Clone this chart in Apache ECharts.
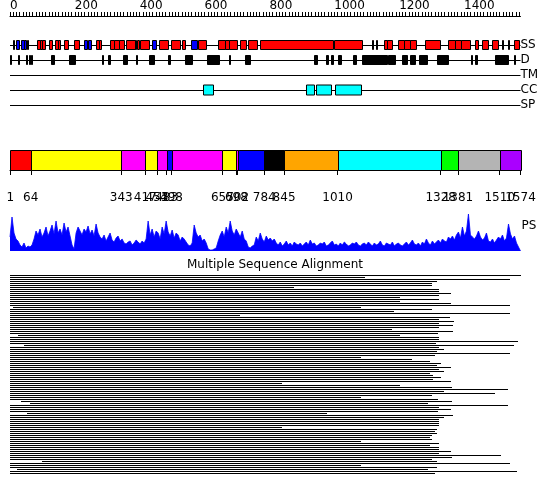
<!DOCTYPE html>
<html><head><meta charset="utf-8">
<script src="https://cdn.jsdelivr.net/npm/echarts@6/dist/echarts.min.js"></script>
<style>html,body{margin:0;padding:0;background:#fff}#c{width:550px;height:495px}</style>
</head><body><div id="c"></div>
<script>
// ---------------- data ----------------
const seqLength = 1574;
const rulerLabels = [0, 200, 400, 600, 800, 1000, 1200, 1400];
const trackNames = ['SS', 'D', 'TM', 'CC', 'SP'];

// secondary structure: helix (red) and strand (blue) ranges, residues
const ssHelix = [[8,10],[52,57],[82,91],[91,99],[99,108],[120,129],[140,148],[148,154],[166,179],[196,214],
  [265,273],[273,281],[308,320],[320,337],[337,351],[358,385],[386,390],[392,398],[401,428],[459,487],[496,524],
  [530,540],[580,604],[641,662],[662,675],[675,700],[709,728],[734,762],[771,996],[999,1085],[1115,1117],[1127,1129],
  [1153,1163],[1163,1178],[1196,1215],[1215,1233],[1233,1252],[1280,1326],[1350,1372],[1372,1390],[1390,1418],
  [1434,1442],[1454,1475],[1487,1504],[1516,1518],[1536,1538],[1555,1570]];
const ssStrand = [[17,28],[34,42],[43,49],[227,237],[240,250],[438,450],[558,577]];
// disorder (D)
const disorder = [[1,3],[24,27],[50,53],[58,62],[64,69],[125,137],[182,200],[283,288],[301,309],[349,361],[388,392],
  [429,443],[487,492],[540,560],[607,644],[674,679],[725,739],[937,946],[974,981],[990,997],[1010,1020],[1057,1067],
  [1084,1162],[1166,1187],[1208,1223],[1233,1249],[1261,1285],[1317,1351],[1421,1423],[1434,1440],[1495,1536],[1555,1556]];
// coiled coil (CC)
const coiledCoil = [[596,625],[914,936],[944,990],[1003,1081]];

// domain architecture
const domainBounds = [1, 64, 343, 417, 453, 483, 498, 655, 698, 702, 784, 845, 1010, 1328, 1381, 1510, 1574];
const domainColors = ['#ff0000','#ffff00','#ff00ff','#ffff00','#ff00ff','#0000ff','#ff00ff','#ffff00','#ff00ff',
  '#0000ff','#000000','#ffa500','#00ffff','#00ff00','#b4b4b4','#aa00ff'];

// PS profile (bins along the sequence)
const psValues = [14,34,18,12, 10,6,4,8,3,5,4,6,
  12,20,16,22,14,18,24,15,20,26,17,30,18,22,16,28,19,24,15, 6,2,
  18,24,20,16,22,19,25,17,21,15,27,18,14, 12,16,10,14,18,11,9,13,15,10,12,8,
  7,9,10,6,8,11,9,7,10,8,12, 30,
  16,22,14,20,18,12,24,17,30,19,15,21,13,18,16,10,14,12,9, 6,5,8,
  26,18,14,16,10,12,8, 2,1,1,2,3,
  10,16,20,14,24,18,30,20,16,22,18,14,20,12,10, 4,3,5,6,
  14,10,18,12,9,15,11,13,10,12,
  8,6,9,5,7,10,6,8,5,9,7,6,8,5,7,9,6,11,7,8,
  5,6,8,7,9,5,6,8,10,6,7,5,8,6,9,7,5,6,8,7,
  9,6,5,7,8,6,9,7,5,8,6,7,10,6,5,8,7,6,9,5,
  7,8,6,5,7,9,6,8,11,7,6,8,5,9,7,12,8,6,10,7,
  9,11,8,12,10,9,
  14,12,15,11,16,19,13,24,15,20,37,16,14,12,15,20,14,11,13,18,10,9,12,8,11,14,12,16,10,13,27,17,12,15,8,4, 0];

// multiple sequence alignment: aligned start / end of every sequence
const msaTitle = 'Multiple Sequence Alignment';
const msaEnd = [1574,1095,1541,1318,1302,1302,877,1324,1324,1361,1324,1203,1324,1203,1361,1541,1081,1302,1185,1541,
  709,1356,1324,1370,1324,1365,1324,1179,1365,1321,1203,1324,1324,1567,1313,1553,1324,1339,1318,1541,
  1310,1081,1240,1296,1330,1318,1361,1324,1339,1296,1305,1328,1305,1361,838,1203,1364,1536,1339,1496,
  1302,1081,1321,1364,1290,1536,1324,1361,1321,978,1367,1339,1324,1324,1324,1324,838,1318,1311,1318,
  1302,1296,1302,1081,1324,1296,1324,1324,1361,1324,1515,1364,1302,1318,1541,1081,1318,1290,1564,1311];
const msaStart = [1,1,1,1,1,1,1,1,1,1,1,1,1,1,1,1,10,1,1,1,
  1,1,1,1,1,1,1,1,1,1,26,1,1,1,1,44,1,1,1,1,
  1,1,1,1,1,1,1,1,1,1,1,1,1,1,1,1,1,1,1,1,
  1,1,1,34,62,1,1,1,1,51,1,1,1,1,1,1,1,1,1,1,
  1,1,1,1,1,1,1,1,1,1,1,1,1,100,1,1,1,21,1,1];

// ---------------- chart ----------------
const FONT = 'DejaVu Sans';
const chart = echarts.init(document.getElementById('c'), null, {renderer: 'canvas'});
const plain = v => String(v);

function boxRenderer(h, fill, stroke) {
  return function (params, api) {
    const s = api.value(0), e = api.value(1), y = api.value(2);
    const p0 = api.coord([s, y]), p1 = api.coord([e, y]);
    const x0 = Math.round(p0[0]) + 0.5, x1 = Math.max(Math.round(p1[0]) + 0.5, x0 + 1);
    const yc = Math.round(p0[1]);
    return {type: 'rect', shape: {x: x0, y: yc - h / 2 + 0.5, width: x1 - x0, height: h - 1},
      style: {fill: fill, stroke: stroke, lineWidth: stroke ? 1 : 0}};
  };
}

const rulerTicks = [];
for (let v = 0; v <= seqLength; v += 10) rulerTicks.push(v);

const L = 10, W = 510.5;
const xBase = {type: 'value', min: 0, max: seqLength, show: false};

const domainData = [];
for (let i = 0; i < domainColors.length; i++) domainData.push([domainBounds[i], domainBounds[i + 1], 0, domainColors[i]]);
const domainLabelsMain = domainBounds.slice(0, -1);
const domainLabelsEnd = domainBounds.slice(-1);

const msaData = [];
for (let i = 0; i < msaEnd.length; i++) msaData.push([msaStart[i], msaEnd[i], i]);

const domainLabelStyle = {formatter: plain, margin: 12, fontSize: 12, color: '#000', fontFamily: FONT,
  hideOverlap: false, showMinLabel: true, showMaxLabel: true};

const option = {
  backgroundColor: '#fff',
  animation: false,
  title: {text: msaTitle, left: 'center', top: 259, padding: 0,
    textStyle: {fontSize: 12, fontWeight: 'normal', fontFamily: FONT, color: '#000'}},
  grid: [
    {left: L, width: W, top: 15, height: 1},
    {left: L, width: W, top: 45, height: 60},
    {left: L, width: W, top: 150, height: 20},
    {left: L, width: W, top: 201, height: 50},
    {left: L, width: W, top: 274.5, height: 200}
  ],
  xAxis: [
    {gridIndex: 0, type: 'value', position: 'top', min: 0, max: seqLength,
      axisLine: {show: true, lineStyle: {color: '#000', width: 1}},
      axisTick: {show: true, customValues: rulerTicks, length: 4, lineStyle: {color: '#000', width: 1}},
      axisLabel: {customValues: rulerLabels, formatter: plain, align: 'left', margin: 3, fontSize: 12, color: '#000', fontFamily: FONT},
      splitLine: {show: false}},
    Object.assign({gridIndex: 1}, xBase),
    {gridIndex: 2, type: 'value', min: 0, max: seqLength, position: 'bottom', offset: 10,
      axisLine: {show: true, lineStyle: {color: '#000', width: 1}},
      axisTick: {show: true, customValues: domainBounds, length: 5, lineStyle: {color: '#000', width: 1}},
      axisLabel: Object.assign({customValues: domainLabelsMain}, domainLabelStyle),
      splitLine: {show: false}},
    {gridIndex: 3, type: 'category', data: psValues.map((v, i) => i), boundaryGap: false, show: false},
    Object.assign({gridIndex: 4}, xBase),
    {gridIndex: 2, type: 'value', min: 0, max: seqLength, position: 'bottom', offset: 10,
      axisLine: {show: false}, axisTick: {show: false}, splitLine: {show: false},
      axisLabel: Object.assign({customValues: domainLabelsEnd}, domainLabelStyle)}
  ],
  yAxis: [
    {gridIndex: 0, type: 'value', show: false},
    {gridIndex: 1, type: 'category', data: trackNames, inverse: true, boundaryGap: false, position: 'right',
      axisLine: {show: false}, axisTick: {show: false},
      axisLabel: {interval: 0, margin: 0, fontSize: 12, color: '#000', fontFamily: FONT},
      splitLine: {show: true, interval: 0, lineStyle: {color: '#000', width: 1}}},
    {gridIndex: 2, type: 'value', min: 0, max: 1, show: false},
    {gridIndex: 3, type: 'value', min: 0, max: 50, position: 'right',
      axisLine: {show: false}, axisTick: {show: false}, axisLabel: {show: false}, splitLine: {show: false},
      name: 'PS', nameLocation: 'middle', nameRotate: 0, nameGap: 1,
      nameTextStyle: {fontSize: 12, color: '#000', fontFamily: FONT, align: 'left', padding: [0, 0, 12, 0]}},
    {gridIndex: 4, type: 'category', data: msaEnd.map((v, i) => i), inverse: true, show: false}
  ],
  series: [
    {type: 'custom', xAxisIndex: 1, yAxisIndex: 1, clip: false, encode: {x: [0, 1], y: 2},
      data: ssHelix.map(d => [d[0], d[1], 0]), renderItem: boxRenderer(10, '#ff0000', '#000')},
    {type: 'custom', xAxisIndex: 1, yAxisIndex: 1, clip: false, encode: {x: [0, 1], y: 2},
      data: ssStrand.map(d => [d[0], d[1], 0]), renderItem: boxRenderer(10, '#0000ff', '#000')},
    {type: 'custom', xAxisIndex: 1, yAxisIndex: 1, clip: false, encode: {x: [0, 1], y: 2},
      data: disorder.map(d => [d[0], d[1], 1]), renderItem: boxRenderer(10, '#000', '#000')},
    {type: 'custom', xAxisIndex: 1, yAxisIndex: 1, clip: false, encode: {x: [0, 1], y: 2},
      data: coiledCoil.map(d => [d[0], d[1], 3]), renderItem: boxRenderer(11, '#00ffff', '#000')},
    {type: 'custom', xAxisIndex: 2, yAxisIndex: 2, clip: false, encode: {x: [0, 1]},
      data: domainData,
      renderItem: function (params, api) {
        const p0 = api.coord([api.value(0), 1]), p1 = api.coord([api.value(1), 0]);
        const x0 = Math.round(p0[0]) + 0.5, x1 = Math.round(p1[0]) + 0.5;
        return {type: 'rect', shape: {x: x0, y: Math.round(p0[1]) + 0.5, width: x1 - x0, height: Math.round(p1[1] - p0[1])},
          style: {fill: domainData[params.dataIndex][3], stroke: '#000', lineWidth: 1}};
      }},
    {type: 'line', xAxisIndex: 3, yAxisIndex: 3, data: psValues, symbol: 'none',
      lineStyle: {color: '#0000ff', width: 0.8}, areaStyle: {color: '#0000ff', opacity: 1}},
    {type: 'custom', xAxisIndex: 4, yAxisIndex: 4, clip: false, encode: {x: [0, 1], y: 2},
      data: msaData,
      renderItem: function (params, api) {
        const p0 = api.coord([api.value(0), api.value(2)]), p1 = api.coord([api.value(1), api.value(2)]);
        const y = Math.floor(p0[1]);
        return {type: 'rect', shape: {x: Math.round(p0[0]), y: y, width: Math.round(p1[0]) - Math.round(p0[0]), height: 1},
          style: {fill: '#000'}};
      }}
  ]
};
chart.setOption(option);
</script></body></html>
